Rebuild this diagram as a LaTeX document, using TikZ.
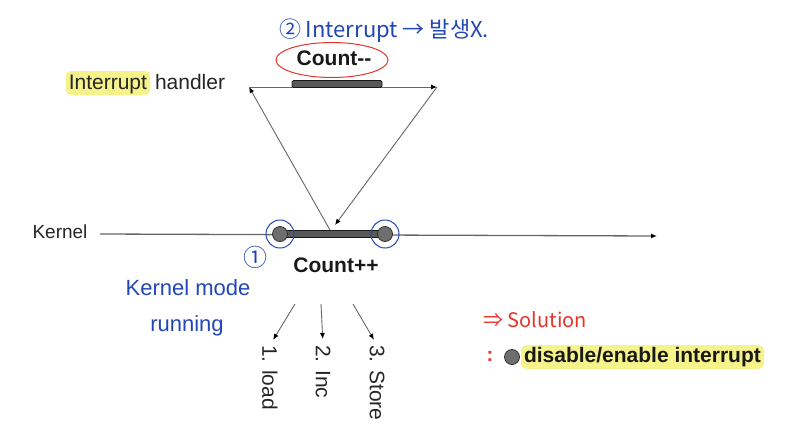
\documentclass[tikz,border=0pt]{standalone}
\usepackage{fontspec}
\setmainfont{Liberation Sans}
\newfontfamily\krfont{Noto Sans CJK KR}
\usepackage{tikz}
\usetikzlibrary{arrows.meta, positioning, shapes.geometric}

\definecolor{penblue}{HTML}{2247B5}
\definecolor{penred}{HTML}{E5342B}
\definecolor{marker}{HTML}{F6F38A}
\definecolor{dotgray}{HTML}{6E6E6E}

\begin{document}
\begin{tikzpicture}[x=1pt, y=-1pt,
        every node/.style={inner sep=0pt, outer sep=0pt},
        printed/.style={font=\fontsize{21}{24}\selectfont, text=black!85},
        bold/.style={font=\fontsize{21}{24}\selectfont\bfseries, text=black!90},
        aligned/.style={text height=16pt, text depth=4pt},
        marked/.style={fill=marker, rounded corners=5pt, inner xsep=3pt, inner ysep=2pt},
        hand/.style={font=\fontsize{22}{26}\selectfont, text=penblue},
        flow/.style={draw=black!60, line width=0.9pt, -{Latex[length=6pt, width=5pt, black]}},
        bar/.style={draw=black!90, fill=black!65, line width=0.9pt, rounded corners=1.5pt, minimum height=7pt},
        switchdot/.style={circle, draw=black!80, fill=dotgray, line width=0.8pt, minimum size=15pt},
        penring/.style={circle, draw=penblue, line width=1pt, minimum size=28pt}
    ]
    \useasboundingbox (0,0) rectangle (803,440);

    % HANDLER
    \node[bold] (countdec) at (334,58) {Count{-}{-}};
    \node[ellipse, draw=penred, line width=1pt, minimum width=112pt, minimum height=35pt] (decring) at (332,60) {};
    \node[printed, aligned, marked, anchor=east] (intword) at (150,83) {Interrupt};
    \node[printed, aligned, right=5pt of intword] (handler) {handler};

    % KERNEL
    \node[printed, font=\fontsize{19}{22}\selectfont] (kernel) at (60,232) {Kernel};
    \coordinate (kstart) at (100,234);
    \coordinate (kend) at (657,236);
    \draw[flow, line width=1.3pt] (kstart) -- (kend);

    % PRERUSENI
    \coordinate (leave) at (330,230);
    \coordinate (hl) at (249,87);
    \coordinate (hr) at (437,87);
    \coordinate (enter) at (335,225);
    \draw[flow] (leave) -- (hl);
    \draw[flow] (hl) -- (hr);
    \draw[flow] (hr) -- (enter);

    \node[bar, minimum width=90pt] (decbar) at (337,84) {};
    \node[bar, minimum width=98pt] (incbar) at (332,234) {};
    \foreach \side/\x in {L/280, R/385} {
        \node[switchdot] (dot\side) at (\x,234) {};
        \node[penring] (ring\side) at (dot\side) {};
    }
    \node[bold] (countinc) at (336,265) {Count++};

    % KROKY
    \foreach \lbl/\x/\sx [count=\i] in {1. load/270/295, 2. Inc/323/321, 3. Store/377/353} {
        \node[printed, rotate=-90, anchor=west] (step\i) at (\x,345) {\lbl};
        \coordinate (from\i) at (\sx,304);
        \draw[flow, shorten >=6pt] (from\i) -- (step\i.west);
    }

    % POZNAMKY
    \node[hand, font=\krfont\fontsize{22}{26}\selectfont] (note2) at (384,31) {② Interrupt → 발생X.};
    \node[hand, font=\krfont\fontsize{24}{26}\selectfont] (note1) at (255,257) {①};
    \node[hand] (kmode) at (188,288) {Kernel mode};
    \node[hand] (running) at (187,326) {running};

    % RESENI
    \node[font=\krfont\fontsize{20}{24}\selectfont, text=penred] (solution) at (535,320) {⇒ Solution};
    \node[font=\fontsize{20}{24}\selectfont\bfseries, text=penred] (colon) at (490,356) {:};
    \node[switchdot] (legenddot) at (512,357) {};
    \node[bold, marked, anchor=west] (legend) at (521,357) {disable/enable interrupt};
\end{tikzpicture}
\end{document}
